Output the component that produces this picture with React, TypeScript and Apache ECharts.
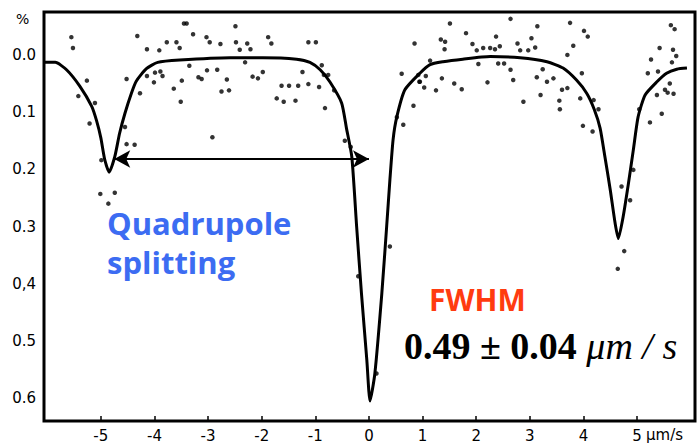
import React, { useEffect, useRef } from "react";
import * as echarts from "echarts";

// Fitted spectrum curve: [velocity µm/s, absorption %]
const curvePoints: number[][] = [
  [-6.05, 0.013], [-5.85, 0.013], [-5.64, 0.026], [-5.39, 0.055], [-5.17, 0.09],
  [-5.08, 0.115], [-5.0, 0.145], [-4.93, 0.182], [-4.845, 0.205], [-4.74, 0.178],
  [-4.65, 0.137], [-4.55, 0.102], [-4.43, 0.067], [-4.34, 0.046], [-4.15, 0.024],
  [-3.94, 0.013], [-3.53, 0.009], [-2.59, 0.005], [-1.98, 0.005], [-1.35, 0.0075],
  [-1.1, 0.013], [-0.91, 0.026], [-0.73, 0.047], [-0.51, 0.084], [-0.42, 0.128],
  [-0.32, 0.178], [-0.23, 0.3], [-0.14, 0.417], [-0.04, 0.533], [0.02, 0.605],
  [0.11, 0.557], [0.24, 0.417], [0.33, 0.3], [0.39, 0.219], [0.45, 0.148],
  [0.52, 0.108], [0.67, 0.061], [0.95, 0.032], [1.14, 0.017], [1.38, 0.012],
  [1.75, 0.0075], [2.26, 0.003], [2.82, 0.005], [3.32, 0.012], [3.62, 0.023],
  [3.87, 0.044], [4.06, 0.067], [4.2, 0.095], [4.31, 0.128], [4.4, 0.178],
  [4.5, 0.236], [4.59, 0.294], [4.65, 0.321], [4.74, 0.283], [4.84, 0.224],
  [4.93, 0.166], [5.02, 0.108], [5.15, 0.07], [5.37, 0.047], [5.55, 0.032],
  [5.74, 0.025], [5.93, 0.023],
];

const measuredPoints: number[][] = [
  [-5.55, -0.031], [-5.52, -0.012], [-5.26, 0.045], [-5.42, 0.072], [-5.21, 0.12],
  [-5.11, 0.084], [-4.32, -0.033], [-4.52, 0.042], [-4.27, 0.067], [-4.55, 0.126],
  [-4.52, 0.156], [-4.37, 0.157], [-4.14, -0.01], [-3.91, -0.008], [-3.77, -0.022],
  [-3.59, -0.022], [-3.53, -0.012], [-3.45, -0.055], [-3.4, -0.055], [-3.28, -0.036],
  [-3.03, -0.031], [-2.97, -0.022], [-2.77, -0.019], [-2.49, -0.05], [-2.48, -0.022],
  [-2.41, -0.009], [-2.27, -0.02], [-2.21, -0.01], [-1.88, -0.031], [-1.82, -0.02],
  [-1.13, -0.022], [-0.99, -0.022], [-4.14, 0.037], [-3.99, 0.031], [-3.89, 0.029],
  [-3.85, 0.037], [-4.01, 0.048], [-3.64, 0.059], [-3.49, 0.045], [-3.51, 0.082],
  [-3.35, 0.019], [-3.18, 0.039], [-3.12, 0.042], [-3.02, 0.027], [-2.83, 0.026],
  [-2.65, 0.043], [-2.75, 0.064], [-2.61, 0.062], [-2.31, 0.013], [-2.17, 0.038],
  [-2.07, 0.041], [-1.98, 0.03], [-2.92, 0.144], [-1.72, 0.076], [-1.59, 0.082],
  [-1.63, 0.054], [-1.49, 0.054], [-1.37, 0.08], [-1.32, 0.054], [-1.24, 0.03],
  [-1.13, 0.051], [-0.93, 0.056], [-0.88, 0.018], [-0.76, 0.035], [-0.82, 0.093],
  [-0.84, 0.035], [-0.65, 0.062], [-0.45, 0.15], [-0.34, 0.161], [-4.99, 0.184],
  [-5.01, 0.243], [-4.74, 0.241], [-4.86, 0.26], [0.39, 0.335], [-0.2, 0.387],
  [0.14, 0.557], [1.51, -0.055], [1.81, -0.038], [2.37, -0.032], [3.14, -0.05],
  [2.64, -0.063], [3.75, -0.056], [4.01, -0.042], [3.03, -0.029], [0.85, -0.02],
  [1.34, -0.027], [1.42, -0.023], [1.93, -0.019], [2.01, -0.008], [2.13, -0.012],
  [2.26, -0.012], [2.35, -0.01], [2.77, -0.02], [2.82, -0.008], [2.97, -0.008],
  [3.81, -0.016], [3.7, 0.0], [2.04, 0.016], [2.41, 0.015], [2.52, 0.015],
  [2.64, 0.026], [2.69, 0.044], [2.21, 0.048], [3.24, 0.025], [3.13, 0.039],
  [3.32, 0.047], [3.44, 0.041], [3.6, 0.061], [3.7, 0.058], [3.2, 0.07],
  [2.88, 0.082], [3.55, 0.08], [3.56, 0.095], [3.94, 0.076], [3.97, 0.032],
  [4.19, 0.079], [4.28, 0.095], [3.99, 0.124], [4.17, 0.134], [1.36, 0.041],
  [1.59, 0.05], [1.73, 0.06], [1.25, 0.062], [1.03, 0.057], [0.94, 0.047],
  [0.61, 0.033], [1.14, 0.01], [1.06, 0.037], [0.64, 0.122], [0.83, 0.089],
  [0.52, 0.109], [0.92, 0.035], [0.95, 0.047], [5.7, -0.045], [5.63, -0.052],
  [5.42, -0.012], [5.67, -0.009], [5.73, 0.002], [5.26, 0.008], [5.65, 0.013],
  [5.2, 0.032], [5.39, 0.029], [5.61, 0.05], [5.52, 0.061], [5.57, 0.066],
  [5.68, 0.068], [5.37, 0.07], [5.24, 0.118], [5.04, 0.095], [5.46, 0.103],
  [4.76, 0.343], [4.64, 0.374], [4.71, 0.23], [4.87, 0.254], [4.93, 0.201],
  [1.41, -0.01], [2.44, -0.015], [3.1, -0.013], [4.08, -0.032],
];

// Quadrupole splitting arrow (data coordinates)
const arrowStart: number[] = [-4.75, 0.182];
const arrowEnd: number[] = [0.0, 0.182];

const xTicks: number[] = [-5, -4, -3, -2, -1, 0, 1, 2, 3, 4, 5];
const yTicks: number[] = [0, 0.1, 0.2, 0.3, 0.4, 0.5, 0.6];
const yTickLabels: string[] = ["0.0", "0.1", "0.2", "0.3", "0,4", "0.5", "0.6"];

const X_MIN = -6.06;
const X_MAX = 6.08;
const Y_MIN = -0.075;
const Y_MAX = 0.64;

export default function App() {
  const ref = useRef<HTMLDivElement>(null);
  useEffect(() => {
    if (!ref.current) return;
    const chart = echarts.init(ref.current, undefined, { renderer: "svg" });
    const labelFont = "DejaVu Sans";
    chart.setOption({
      animation: false,
      backgroundColor: "#ffffff",
      grid: {
        left: 44,
        top: 12,
        width: 651,
        height: 409,
        show: true,
        borderColor: "#000000",
        borderWidth: 3,
        backgroundColor: "rgba(255,255,255,0)",
      },
      xAxis: {
        type: "value",
        min: X_MIN,
        max: X_MAX,
        axisLine: { show: true, onZero: false, lineStyle: { color: "#000", width: 2 } },
        axisTick: {
          show: true,
          inside: true,
          length: 5,
          customValues: xTicks,
          lineStyle: { color: "#000", width: 1.5 },
        },
        axisLabel: {
          customValues: xTicks,
          color: "#000",
          fontSize: 15,
          fontFamily: labelFont,
          margin: 7,
          formatter: (v: number) => String(Math.round(v)),
        },
        splitLine: { show: false },
      },
      yAxis: {
        type: "value",
        inverse: true,
        min: Y_MIN,
        max: Y_MAX,
        axisLine: { show: true, onZero: false, lineStyle: { color: "#000", width: 2 } },
        axisTick: { show: false },
        axisLabel: {
          customValues: yTicks,
          color: "#000",
          fontSize: 15,
          fontFamily: labelFont,
          margin: 8,
          formatter: (v: number) => {
            const i = yTicks.findIndex((t) => Math.abs(t - v) < 1e-6);
            return i >= 0 ? yTickLabels[i] : "";
          },
        },
        splitLine: { show: false },
      },
      series: [
        {
          type: "line",
          data: curvePoints,
          showSymbol: false,
          smooth: 0.2,
          lineStyle: { color: "#000", width: 3 },
          silent: true,
          z: 3,
          markLine: {
            silent: true,
            symbol: ["arrow", "arrow"],
            symbolSize: [13, 16],
            label: { show: false },
            lineStyle: { color: "#000", width: 2, type: "solid" },
            data: [[{ coord: arrowStart }, { coord: arrowEnd }]],
          },
        },
        {
          type: "scatter",
          data: measuredPoints,
          symbol: "circle",
          symbolSize: 4.5,
          itemStyle: { color: "#000" },
          silent: true,
          z: 4,
        },
      ],
      graphic: [
        {
          type: "text",
          x: 16,
          y: 12,
          style: { text: "%", fontSize: 14, fontFamily: labelFont, fill: "#000" },
        },
        {
          type: "text",
          x: 646,
          y: 427,
          style: { text: "μm/s", fontSize: 15, fontFamily: labelFont, fill: "#000" },
        },
        {
          type: "text",
          x: 107,
          y: 203,
          style: {
            text: "Quadrupole\nsplitting",
            fontSize: 31,
            lineHeight: 39,
            fontWeight: "bold",
            fontFamily: "Open Sans",
            fill: "#3C6CF2",
          },
        },
        {
          type: "text",
          x: 429,
          y: 284,
          style: {
            text: "FWHM",
            fontSize: 30,
            fontWeight: "bold",
            fontFamily: "Open Sans",
            fill: "#FF3B10",
          },
        },
        {
          type: "text",
          x: 404,
          y: 327,
          style: {
            text: "{b|0.49 ± 0.04 }{i|μm / s}",
            rich: {
              b: {
                fontSize: 38,
                fontWeight: "bold",
                fontFamily: "Liberation Serif",
                fill: "#000",
              },
              i: {
                fontSize: 38,
                fontStyle: "italic",
                fontFamily: "Liberation Serif",
                fill: "#000",
              },
            },
          },
        },
      ],
    });
    return () => chart.dispose();
  }, []);
  return <div ref={ref} style={{ width: 700, height: 447, position: "absolute", left: 0, top: 0 }} />;
}
